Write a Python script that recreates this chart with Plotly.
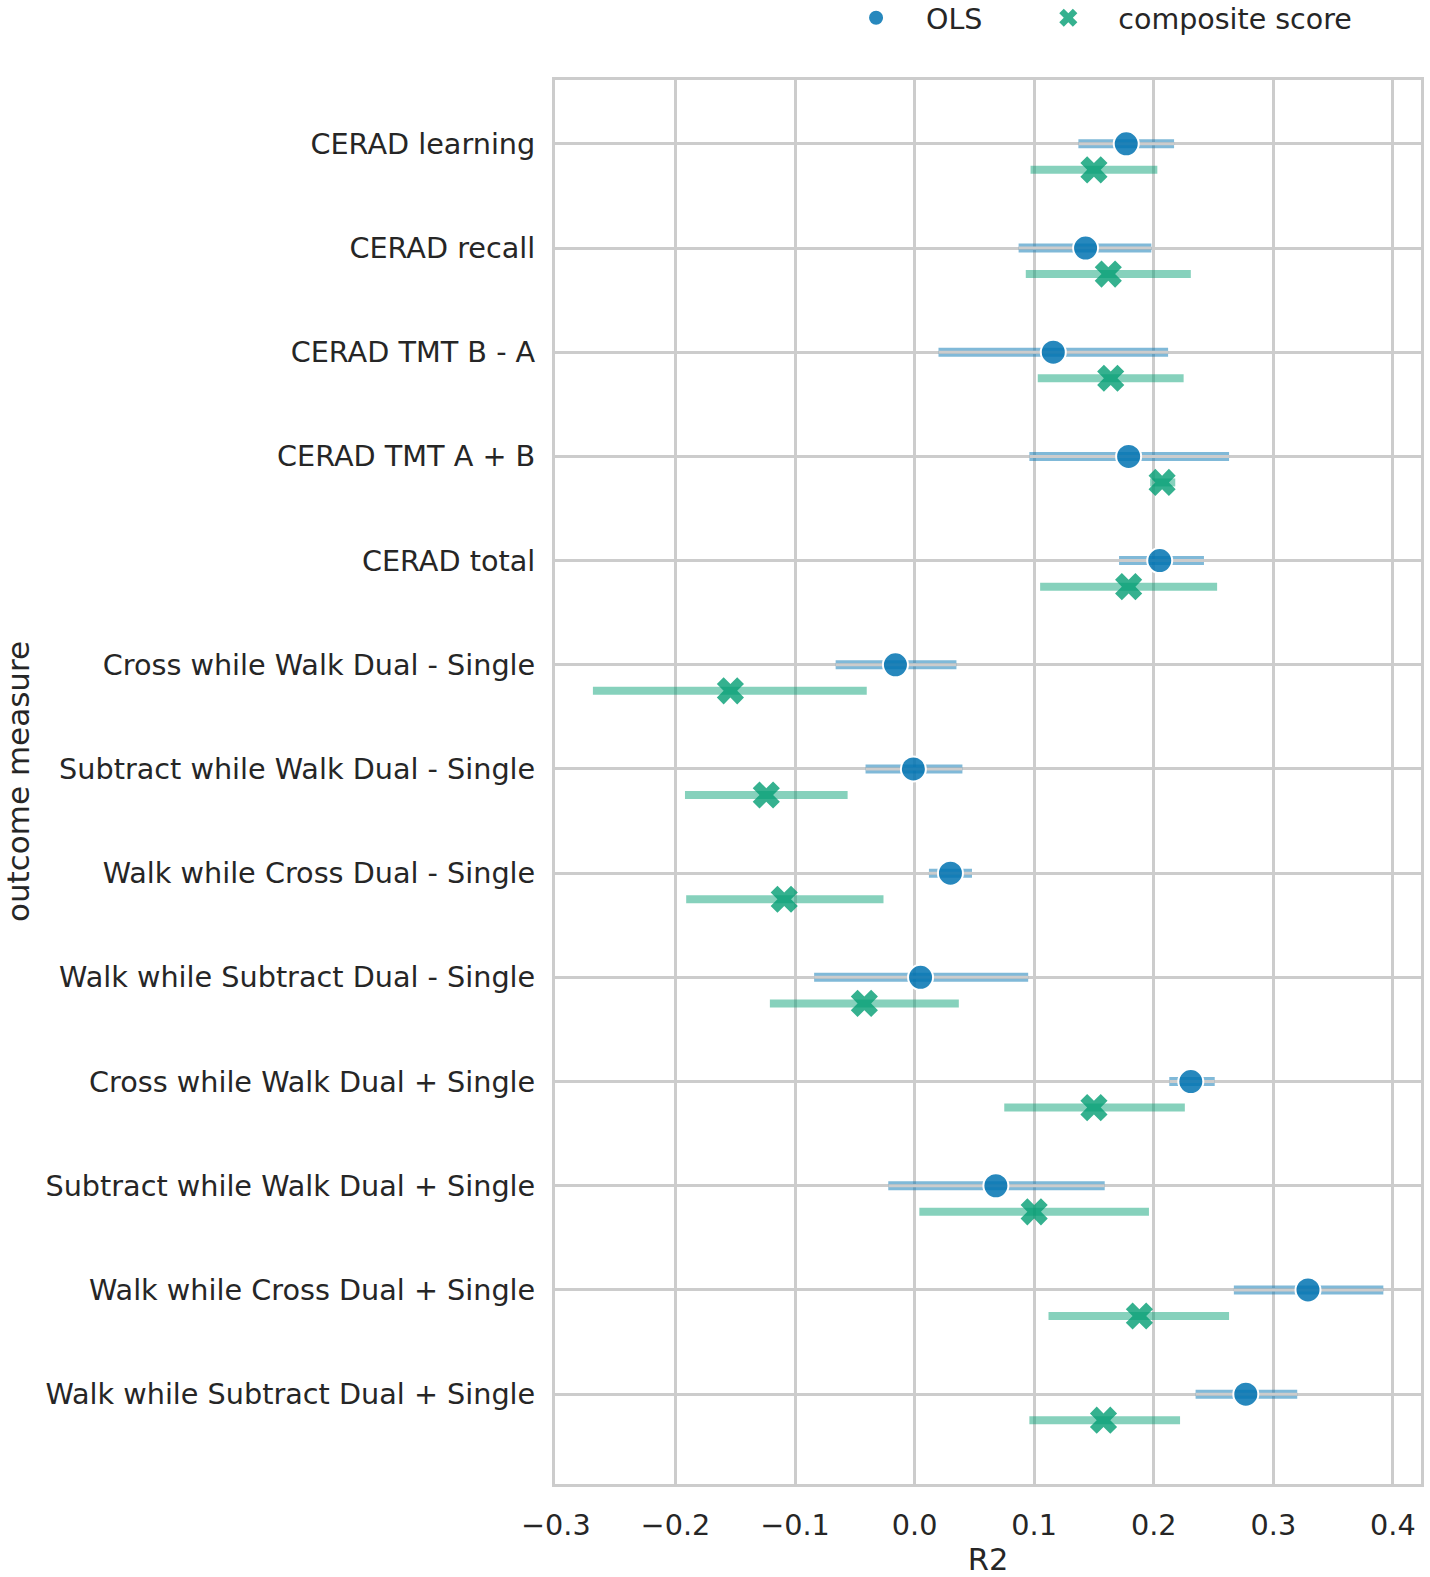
import plotly.graph_objects as go

# outcome measures, top to bottom
measures = [
    "CERAD learning",
    "CERAD recall",
    "CERAD TMT B - A",
    "CERAD TMT A + B",
    "CERAD total",
    "Cross while Walk Dual - Single",
    "Subtract while Walk Dual - Single",
    "Walk while Cross Dual - Single",
    "Walk while Subtract Dual - Single",
    "Cross while Walk Dual + Single",
    "Subtract while Walk Dual + Single",
    "Walk while Cross Dual + Single",
    "Walk while Subtract Dual + Single",
]

# OLS R2 with interval
ols_r2 = [0.177, 0.143, 0.116, 0.179, 0.205, -0.016, -0.001, 0.030, 0.005, 0.231, 0.068, 0.329, 0.277]
ols_lo = [0.137, 0.087, 0.020, 0.096, 0.171, -0.066, -0.041, 0.012, -0.084, 0.213, -0.022, 0.267, 0.235]
ols_hi = [0.217, 0.198, 0.212, 0.263, 0.242, 0.035, 0.040, 0.048, 0.095, 0.251, 0.159, 0.392, 0.320]

# composite score R2 with interval
comp_r2 = [0.150, 0.162, 0.164, 0.207, 0.179, -0.154, -0.124, -0.109, -0.042, 0.150, 0.100, 0.188, 0.158]
comp_lo = [0.097, 0.093, 0.103, 0.197, 0.105, -0.269, -0.192, -0.191, -0.121, 0.075, 0.004, 0.112, 0.096]
comp_hi = [0.203, 0.231, 0.225, 0.218, 0.253, -0.040, -0.056, -0.026, 0.037, 0.226, 0.196, 0.263, 0.222]

x_ticks = [-0.3, -0.2, -0.1, 0.0, 0.1, 0.2, 0.3, 0.4]
x_tick_text = ["\u22120.3", "\u22120.2", "\u22120.1", "0.0", "0.1", "0.2", "0.3", "0.4"]

OFFSET = 0.25  # composite rows sit a little below the category line
GRID = "#cccccc"
FONT = "DejaVu Sans"
TICK_SIZE = 28.7
TITLE_SIZE = 30.5

rows = list(range(len(measures)))
comp_rows = [r + OFFSET for r in rows]

ols_plus = [h - m for h, m in zip(ols_hi, ols_r2)]
ols_minus = [m - l for m, l in zip(ols_r2, ols_lo)]
comp_plus = [h - m for h, m in zip(comp_hi, comp_r2)]
comp_minus = [m - l for m, l in zip(comp_r2, comp_lo)]

fig = go.Figure()

# OLS interval bars
fig.add_trace(go.Scatter(
    x=ols_r2, y=rows, mode="markers",
    marker=dict(size=1, color="rgba(0,0,0,0)"),
    error_x=dict(type="data", symmetric=False, array=ols_plus, arrayminus=ols_minus,
                 thickness=9, width=0, color="rgba(1,115,178,0.5)"),
    showlegend=False, hoverinfo="skip",
))
# row gridline shows through the OLS bars
fig.add_trace(go.Scatter(
    x=ols_r2, y=rows, mode="markers",
    marker=dict(size=1, color="rgba(0,0,0,0)"),
    error_x=dict(type="data", symmetric=False, array=ols_plus, arrayminus=ols_minus,
                 thickness=3, width=0, color=GRID),
    showlegend=False, hoverinfo="skip",
))
fig.add_trace(go.Scatter(
    x=ols_r2, y=rows, mode="markers", name="OLS", legend="legend",
    marker=dict(size=25, color="rgba(1,115,178,0.85)", symbol="circle",
                line=dict(width=2, color="white")),
))

# composite score
fig.add_trace(go.Scatter(
    x=comp_r2, y=comp_rows, mode="markers", name="composite score", legend="legend2",
    marker=dict(size=24, color="rgba(2,158,115,0.8)", symbol="x",
                line=dict(width=0)),
    error_x=dict(type="data", symmetric=False, array=comp_plus, arrayminus=comp_minus,
                 thickness=8, width=0, color="rgba(2,158,115,0.48)"),
))

legend_style = dict(orientation="h", xanchor="left", y=1.044, yanchor="middle",
                    font=dict(size=28.5), itemwidth=90, bgcolor="rgba(0,0,0,0)")

fig.update_layout(
    width=1430, height=1577,
    margin=dict(l=555, r=9, t=80, b=93, autoexpand=False),
    paper_bgcolor="white", plot_bgcolor="white",
    font=dict(family=FONT, size=TICK_SIZE, color="#262626"),
    showlegend=True,
    legend=dict(legend_style, x=0.313),
    legend2=dict(legend_style, x=0.535),
    xaxis=dict(
        range=[-0.3007, 0.4235], tickvals=x_ticks, ticktext=x_tick_text,
        showgrid=True, gridcolor=GRID, gridwidth=3, zeroline=False,
        showline=True, linecolor=GRID, linewidth=3, mirror=True,
        ticks="outside", ticklen=14, tickcolor="rgba(0,0,0,0)",
        title=dict(text="R2", standoff=13, font=dict(size=TITLE_SIZE)),
    ),
    yaxis=dict(
        range=[len(measures) - 1 + 0.8625, -0.6125],
        tickvals=rows, ticktext=measures,
        showgrid=True, gridcolor=GRID, gridwidth=3, zeroline=False,
        showline=True, linecolor=GRID, linewidth=3, mirror=True,
        ticks="outside", ticklen=11, tickcolor="rgba(0,0,0,0)",
    ),
    annotations=[dict(
        text="outcome measure", textangle=-90, showarrow=False,
        xref="paper", yref="paper", x=0, y=0.5, xshift=-537,
        xanchor="center", yanchor="middle", font=dict(size=31),
    )],
)

fig.write_html("out.html", config={"displayModeBar": False},
               post_script="document.body.style.margin='0';")
